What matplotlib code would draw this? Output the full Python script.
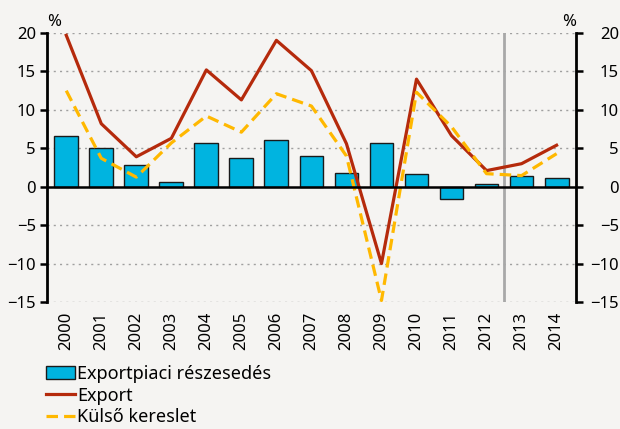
import matplotlib
matplotlib.use('Agg')
import matplotlib.pyplot as plt
import numpy as np

plt.rcParams['font.family'] = ['Noto Sans', 'DejaVu Sans']

years = ['2000', '2001', '2002', '2003', '2004', '2005', '2006', '2007',
         '2008', '2009', '2010', '2011', '2012', '2013', '2014']
piaci_reszesedes = [6.6, 5.0, 2.85, 0.65, 5.75, 3.8, 6.1, 4.05,
                    1.75, 5.7, 1.65, -1.65, 0.35, 1.4, 1.2]
export = [19.7, 8.2, 3.9, 6.3, 15.2, 11.3, 19.05, 15.1,
          5.6, -10.0, 14.0, 6.65, 2.1, 3.0, 5.4]
kulso_kereslet = [12.5, 3.7, 1.25, 5.7, 9.2, 7.1, 12.1, 10.5,
                  4.0, -14.8, 12.3, 7.8, 1.7, 1.45, 4.3]
ytick_vals = [-15, -10, -5, 0, 5, 10, 15, 20]
ytick_labels = ['\u221215', '\u221210', '\u22125', '0', '5', '10', '15', '20']

bg = '#f5f4f2'
fig = plt.figure(figsize=(6.2, 4.29), dpi=100, facecolor=bg)
ax = fig.add_axes([0.0758, 0.296, 0.853, 0.627], facecolor=bg)

x = np.arange(len(years))
ax.bar(x, piaci_reszesedes, 0.68, color='#00b4e0', edgecolor='#1a1a1a',
       linewidth=1.0, label='Exportpiaci részesedés', zorder=3)
ax.plot(x, export, color='#b52a0c', linewidth=2.3, label='Export', zorder=4)
ax.plot(x, kulso_kereslet, color='#ffb800', linewidth=2.3, dashes=(3.6, 1.9),
        label='Külső kereslet', zorder=4)

ax.axvline(12.5, color='#a8a8a8', linewidth=2, zorder=2)
ax.axhline(0, color='black', linewidth=1.8, zorder=5)
for v in ytick_vals:
    if v != 0:
        ax.axhline(v, color='#a0a0a0', linewidth=1, linestyle=(0, (1.5, 3)), zorder=1)

ax.set_xlim(-0.55, 14.55)
ax.set_ylim(-15, 20)
ax.set_yticks(ytick_vals)
ax.set_yticklabels(ytick_labels)
ax.set_xticks(x)
ax.set_xticklabels(years, rotation=90)
ax.tick_params(axis='x', length=0, pad=7, labelsize=12)
ax.tick_params(axis='y', length=5, width=1.8, labelsize=12, pad=3,
               right=True, labelright=False)

# right-hand labels are right-aligned at the figure edge
for v, lab in zip(ytick_vals, ytick_labels):
    ax.annotate(lab, xy=(1, v), xycoords=('axes fraction', 'data'),
                xytext=(31, 0), textcoords='offset points',
                ha='right', va='center_baseline', fontsize=12, annotation_clip=False)

for s in ['top', 'bottom']:
    ax.spines[s].set_visible(False)
for s in ['left', 'right']:
    ax.spines[s].set_linewidth(2)

ax.text(0.0, 1.01, '%', transform=ax.transAxes, fontsize=12, ha='left', va='bottom')
ax.text(1.0, 1.01, '%', transform=ax.transAxes, fontsize=12, ha='right', va='bottom')

handles, labels = ax.get_legend_handles_labels()
order = [2, 0, 1]
fig.legend([handles[i] for i in order], [labels[i] for i in order],
           loc='upper left', bbox_to_anchor=(0.074, 0.149), frameon=False,
           fontsize=13, handlelength=1.6, handletextpad=0.15, handleheight=0.7,
           labelspacing=0.2, borderaxespad=0, borderpad=0)

fig.savefig('out.png', dpi=100, facecolor=bg)
